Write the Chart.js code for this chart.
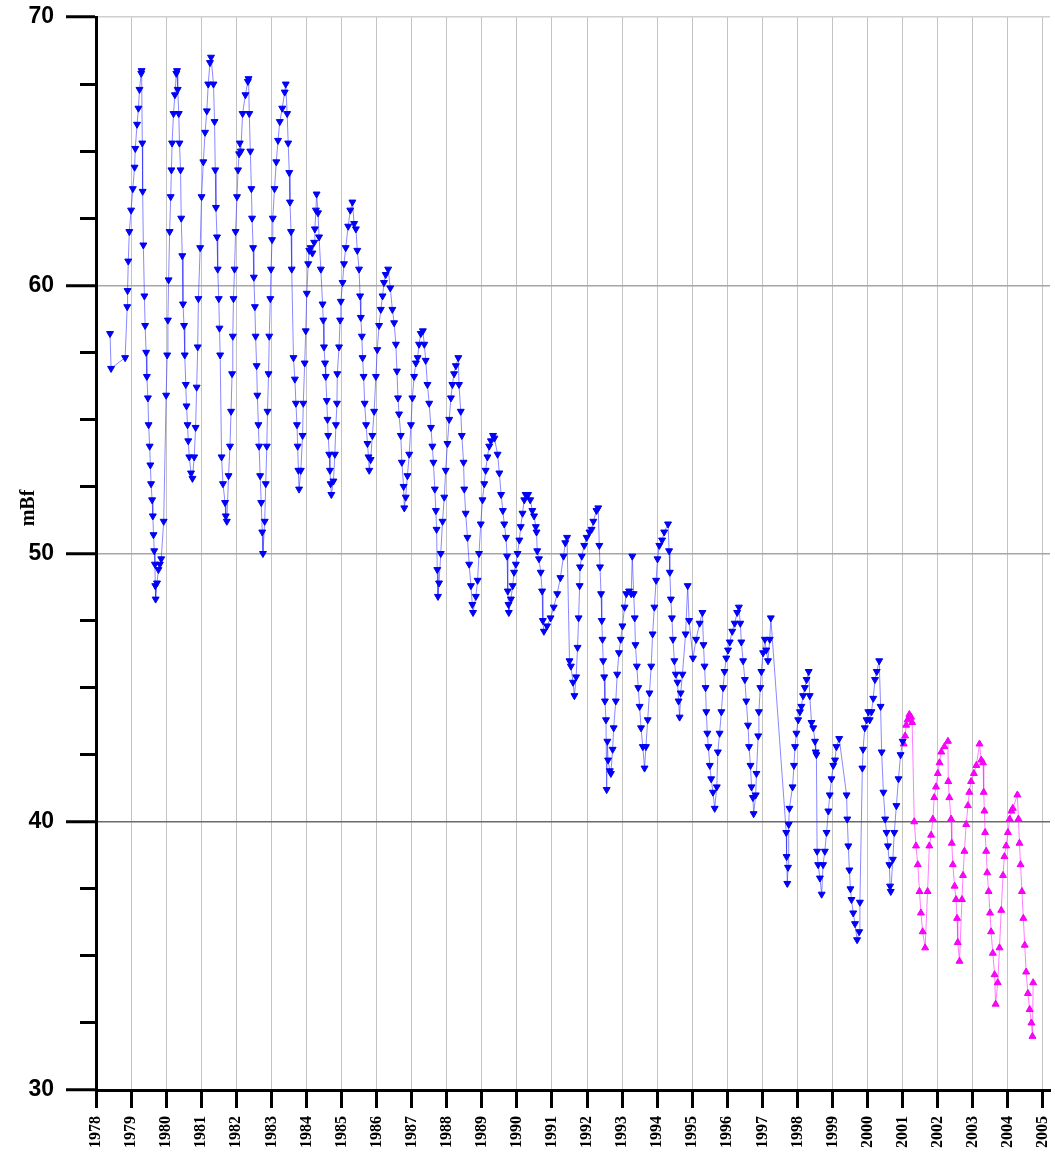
<!DOCTYPE html>
<html><head><meta charset="utf-8">
<script src="https://cdn.jsdelivr.net/npm/chart.js@4.4.0/dist/chart.umd.min.js"></script>
<style>html,body{margin:0;padding:0;background:#fff}canvas{display:block}</style>
</head><body>
<canvas id="c" width="1055" height="1155"></canvas>
<script>
const yearTicks = [1978,1979,1980,1981,1982,1983,1984,1985,1986,1987,1988,1989,1990,1991,1992,1993,1994,1995,1996,1997,1998,1999,2000,2001,2002,2003,2004,2005];
const yearLabels = ["1978","1979","1980","1981","1982","1983","1984","1985","1986","1987","1988","1989","1990","1991","1992","1993","1994","1995","1996","1997","1998","1999","2000","2001","2002","2003","2004","2005"];
const majorTicks = [30,40,50,60,70];
const majorLabels = ["30","40","50","60","70"];
const minorTicks = [32.5,35,37.5,42.5,45,47.5,52.5,55,57.5,62.5,65,67.5];
const yTitle = "mBf";

const blueYears = [
1978.40,1978.43,1978.83,1978.89,1978.90,1978.92,1978.95,1979.00,1979.05,1979.10,
1979.12,1979.17,1979.21,1979.24,1979.29,1979.30,1979.32,1979.33,1979.35,1979.38,
1979.40,1979.43,1979.45,1979.48,1979.50,1979.53,1979.55,1979.57,1979.60,1979.62,
1979.64,1979.66,1979.68,1979.69,1979.70,1979.74,1979.78,1979.82,1979.86,1979.93,
1980.00,1980.03,1980.05,1980.07,1980.10,1980.13,1980.15,1980.17,1980.21,1980.25,
1980.29,1980.31,1980.33,1980.36,1980.38,1980.41,1980.43,1980.46,1980.48,1980.51,
1980.53,1980.56,1980.58,1980.61,1980.63,1980.66,1980.71,1980.75,1980.80,1980.84,
1980.87,1980.90,1980.92,1980.97,1981.01,1981.06,1981.11,1981.16,1981.20,1981.25,
1981.28,1981.35,1981.38,1981.40,1981.42,1981.45,1981.47,1981.50,1981.52,1981.54,
1981.58,1981.62,1981.68,1981.70,1981.73,1981.78,1981.82,1981.85,1981.88,1981.90,
1981.92,1981.95,1981.98,1982.02,1982.05,1982.08,1982.10,1982.13,1982.18,1982.26,
1982.33,1982.35,1982.37,1982.40,1982.43,1982.45,1982.48,1982.50,1982.53,1982.55,
1982.58,1982.60,1982.63,1982.65,1982.68,1982.71,1982.74,1982.76,1982.81,1982.84,
1982.87,1982.89,1982.92,1982.94,1982.97,1982.99,1983.02,1983.04,1983.09,1983.14,
1983.19,1983.24,1983.31,1983.38,1983.41,1983.45,1983.48,1983.51,1983.53,1983.56,
1983.58,1983.63,1983.67,1983.70,1983.73,1983.75,1983.77,1983.79,1983.84,1983.89,
1983.91,1983.95,1983.98,1984.01,1984.05,1984.08,1984.12,1984.17,1984.22,1984.24,
1984.27,1984.29,1984.33,1984.36,1984.41,1984.46,1984.48,1984.50,1984.53,1984.55,
1984.58,1984.60,1984.62,1984.65,1984.67,1984.69,1984.71,1984.77,1984.81,1984.84,
1984.87,1984.88,1984.93,1984.96,1984.98,1985.03,1985.07,1985.12,1985.19,1985.25,
1985.31,1985.36,1985.41,1985.45,1985.50,1985.53,1985.55,1985.58,1985.60,1985.63,
1985.66,1985.70,1985.74,1985.77,1985.79,1985.83,1985.88,1985.93,1985.98,1986.02,
1986.07,1986.12,1986.17,1986.21,1986.26,1986.33,1986.39,1986.45,1986.50,1986.55,
1986.58,1986.61,1986.64,1986.69,1986.72,1986.77,1986.79,1986.83,1986.88,1986.93,
1986.98,1987.02,1987.07,1987.12,1987.17,1987.21,1987.26,1987.32,1987.36,1987.40,
1987.45,1987.50,1987.55,1987.59,1987.62,1987.66,1987.69,1987.71,1987.73,1987.75,
1987.78,1987.83,1987.88,1987.93,1987.97,1988.02,1988.07,1988.12,1988.16,1988.21,
1988.26,1988.33,1988.35,1988.40,1988.43,1988.48,1988.50,1988.54,1988.59,1988.64,
1988.69,1988.73,1988.75,1988.83,1988.88,1988.92,1988.97,1989.02,1989.07,1989.11,
1989.16,1989.21,1989.26,1989.32,1989.36,1989.45,1989.50,1989.55,1989.60,1989.64,
1989.69,1989.72,1989.74,1989.76,1989.77,1989.83,1989.88,1989.92,1989.97,1990.02,
1990.07,1990.11,1990.16,1990.21,1990.25,1990.32,1990.38,1990.44,1990.49,1990.54,
1990.56,1990.58,1990.63,1990.68,1990.72,1990.74,1990.77,1990.86,1990.96,1991.05,
1991.15,1991.24,1991.33,1991.38,1991.43,1991.50,1991.54,1991.60,1991.64,1991.69,
1991.73,1991.76,1991.79,1991.80,1991.85,1991.92,1991.99,1992.07,1992.13,1992.18,
1992.27,1992.32,1992.35,1992.37,1992.40,1992.42,1992.44,1992.46,1992.49,1992.51,
1992.54,1992.56,1992.58,1992.60,1992.65,1992.68,1992.73,1992.76,1992.82,1992.86,
1992.91,1992.96,1993.01,1993.07,1993.12,1993.20,1993.26,1993.29,1993.33,1993.36,
1993.38,1993.42,1993.46,1993.50,1993.54,1993.59,1993.64,1993.68,1993.73,1993.78,
1993.83,1993.87,1993.92,1993.97,1994.01,1994.06,1994.14,1994.20,1994.31,1994.34,
1994.36,1994.39,1994.42,1994.45,1994.49,1994.53,1994.58,1994.61,1994.64,1994.67,
1994.72,1994.81,1994.87,1994.91,1995.02,1995.11,1995.21,1995.29,1995.32,1995.35,
1995.38,1995.40,1995.43,1995.46,1995.50,1995.54,1995.59,1995.64,1995.70,1995.73,
1995.78,1995.83,1995.88,1995.92,1995.97,1996.02,1996.07,1996.14,1996.21,1996.28,
1996.33,1996.37,1996.40,1996.45,1996.50,1996.54,1996.59,1996.62,1996.66,1996.69,
1996.73,1996.75,1996.81,1996.83,1996.88,1996.90,1996.94,1996.97,1997.02,1997.07,
1997.11,1997.16,1997.21,1997.24,1997.68,1997.69,1997.71,1997.73,1997.75,1997.77,
1997.86,1997.90,1997.93,1997.97,1998.02,1998.07,1998.11,1998.16,1998.21,1998.26,
1998.32,1998.35,1998.40,1998.45,1998.50,1998.52,1998.54,1998.56,1998.59,1998.64,
1998.69,1998.73,1998.78,1998.83,1998.88,1998.92,1998.97,1999.02,1999.07,1999.11,
1999.19,1999.40,1999.42,1999.45,1999.48,1999.51,1999.54,1999.59,1999.64,1999.70,
1999.76,1999.78,1999.85,1999.87,1999.92,1999.97,2000.02,2000.06,2000.11,2000.16,
2000.21,2000.26,2000.33,2000.37,2000.40,2000.45,2000.50,2000.54,2000.58,2000.62,
2000.64,2000.66,2000.72,2000.76,2000.82,2000.88,2000.94,2001.00
];
const blueValues = [
58.2,56.9,57.3,59.2,59.8,60.9,62.0,62.8,63.6,64.4,
65.1,66.0,66.6,67.3,67.9,68.0,65.3,63.5,61.5,59.6,
58.5,57.5,56.6,55.8,54.8,54.0,53.3,52.6,52.0,51.4,
50.7,50.1,49.6,48.8,48.3,48.9,49.4,49.6,49.8,51.2,
55.9,57.4,58.7,60.2,62.0,63.3,64.3,65.3,66.4,67.1,
67.9,68.0,67.3,66.4,65.3,64.3,62.5,61.1,59.3,58.5,
57.4,56.3,55.5,54.8,54.2,53.6,53.0,52.8,53.6,54.7,
56.2,57.7,59.5,61.4,63.3,64.6,65.7,66.5,67.5,68.3,
68.5,67.5,66.1,64.3,62.9,61.8,60.6,59.5,58.4,57.4,
53.6,52.6,51.9,51.4,51.2,52.9,54.0,55.3,56.7,58.1,
59.5,60.6,62.0,63.3,64.3,64.9,65.3,65.0,66.4,67.1,
67.6,67.7,66.4,65.0,63.6,62.5,61.4,60.3,59.2,58.1,
57.0,55.9,54.8,54.0,52.9,51.9,50.8,50.0,51.2,52.6,
54.0,55.3,56.7,58.1,59.5,60.6,61.7,62.5,63.6,64.6,
65.4,66.1,66.6,67.2,67.5,66.4,65.3,64.2,63.1,62.0,
60.6,57.3,56.5,55.6,54.8,54.0,53.1,52.4,53.1,54.4,
55.6,57.1,58.3,59.7,60.8,61.3,61.4,61.2,61.6,62.1,
62.8,63.4,62.7,61.8,60.6,59.3,58.7,57.7,57.1,56.6,
55.7,55.0,54.4,53.7,53.1,52.6,52.2,52.7,53.7,54.8,
55.6,56.7,57.7,58.7,59.4,60.1,60.8,61.4,62.2,62.8,
63.1,62.3,62.1,61.3,60.6,59.6,58.8,58.1,57.3,56.6,
55.6,54.8,54.1,53.6,53.1,53.5,54.4,55.3,56.6,57.6,
58.5,59.1,59.6,60.1,60.4,60.6,59.9,59.1,58.6,57.8,
56.8,55.8,55.2,54.4,53.4,52.5,51.7,52.1,52.9,53.7,
54.8,55.8,56.6,57.1,57.3,57.8,58.2,58.3,57.8,57.2,
56.3,55.6,54.7,54.0,53.4,52.4,51.6,50.9,49.4,48.4,
48.9,50.0,51.2,52.1,53.1,54.1,55.0,55.8,56.3,56.7,
57.0,57.3,56.3,55.3,54.4,53.4,52.4,51.5,50.6,49.6,
48.8,48.1,47.8,48.4,49.0,50.0,51.1,52.0,52.6,53.1,
53.6,54.0,54.2,54.4,54.3,53.7,53.0,52.2,51.6,51.1,
50.6,49.9,48.6,48.1,47.8,48.3,48.8,49.3,49.6,50.0,
50.5,51.0,51.5,52.0,52.2,52.2,52.0,51.6,51.4,51.0,
50.8,50.1,49.8,49.3,48.6,47.5,47.1,47.3,47.6,48.0,
48.5,49.1,49.9,50.4,50.6,46.0,45.8,45.2,44.7,45.4,
46.5,47.6,48.8,49.5,49.9,50.3,50.6,50.8,50.9,51.2,
51.6,51.7,50.3,49.5,48.5,47.5,46.8,46.0,45.4,44.5,
43.8,41.2,43.0,42.3,41.9,41.8,42.7,43.5,44.5,45.5,
46.3,46.8,47.3,48.0,48.5,48.6,48.5,49.9,48.5,47.6,
46.6,45.8,45.0,44.3,43.5,42.8,42.0,42.8,43.8,44.8,
45.8,47.0,48.0,49.0,49.8,50.3,50.5,50.8,51.1,50.1,
49.3,48.3,47.6,46.8,46.0,45.5,45.2,44.5,43.9,44.8,
45.5,47.0,48.8,47.5,46.1,46.8,47.4,47.8,46.6,45.8,
45.0,44.1,43.3,42.8,42.1,41.6,41.1,40.5,41.3,42.6,
43.3,44.1,45.0,45.6,46.1,46.4,46.7,47.1,47.4,47.8,
48.0,47.4,46.7,46.0,45.3,44.5,43.6,42.8,42.1,41.3,
40.9,40.3,41.0,41.8,43.2,44.1,45.0,45.6,46.3,46.8,
46.4,46.0,46.8,47.6,39.6,38.7,37.7,38.3,39.9,40.5,
41.3,42.1,42.8,43.3,43.8,44.1,44.3,44.7,45.0,45.3,
45.6,44.7,43.7,43.5,43.0,42.6,42.5,38.9,38.4,37.9,
37.3,38.4,38.9,39.6,40.4,41.0,41.6,42.1,42.3,42.8,
43.1,41.0,40.1,39.1,38.2,37.5,37.1,36.6,36.2,35.6,
35.9,37.0,42.0,42.7,43.5,43.8,44.1,43.8,44.1,44.6,
45.3,45.6,46.0,44.3,42.6,41.1,40.1,39.6,39.1,38.4,
37.6,37.4,38.6,39.6,40.6,41.6,42.5,43.0
];

const magentaYears = [
2001.03,2001.07,2001.10,2001.14,2001.19,2001.24,2001.27,2001.33,2001.38,2001.43,
2001.48,2001.52,2001.57,2001.64,2001.71,2001.76,2001.81,2001.86,2001.90,2001.95,
2002.00,2002.05,2002.10,2002.19,2002.29,2002.30,2002.33,2002.38,2002.40,2002.43,
2002.48,2002.52,2002.55,2002.57,2002.62,2002.69,2002.72,2002.76,2002.81,2002.86,
2002.90,2002.95,2003.03,2003.10,2003.19,2003.24,2003.29,2003.31,2003.33,2003.35,
2003.38,2003.41,2003.45,2003.49,2003.52,2003.57,2003.62,2003.65,2003.71,2003.76,
2003.81,2003.86,2003.90,2003.95,2004.00,2004.05,2004.10,2004.14,2004.27,2004.30,
2004.33,2004.36,2004.40,2004.44,2004.48,2004.52,2004.57,2004.62,2004.67,2004.70,
2004.72
];
const magentaValues = [
42.9,43.2,43.6,43.8,44.0,43.9,43.7,40.0,39.1,38.4,
37.4,36.6,35.9,35.3,37.4,39.1,39.5,40.1,40.9,41.3,
41.8,42.2,42.6,42.8,43.0,41.5,40.9,40.1,39.2,38.4,
37.6,37.1,36.4,35.5,34.8,37.1,38.0,38.9,39.9,40.6,
41.1,41.5,41.8,42.1,42.9,42.3,42.2,41.1,40.4,39.6,
38.9,38.1,37.4,36.6,35.9,35.1,34.3,33.2,34.0,35.3,
36.7,38.0,38.7,39.1,39.6,40.1,40.4,40.5,41.0,40.1,
39.2,38.4,37.4,36.4,35.4,34.4,33.6,33.0,32.5,32.0,
34.0
];

const yTitlePlugin = {
  id: 'yTitle',
  afterDraw(chart) {
    const c = chart.ctx;
    c.save();
    c.font = 'bold 20px "Liberation Serif", serif';
    c.fillStyle = '#000';
    c.textAlign = 'center';
    c.textBaseline = 'middle';
    c.translate(29, 508);
    c.rotate(-Math.PI / 2);
    c.fillText(yTitle, 0, 0);
    c.restore();
  }
};

new Chart(document.getElementById('c'), {
  type: 'line',
  data: {
    datasets: [
      {
        label: 'blue',
        data: blueYears.map((x, i) => ({ x: x, y: blueValues[i] })),
        borderColor: 'rgba(40,40,255,0.55)',
        borderWidth: 1,
        backgroundColor: '#0000ff',
        pointBackgroundColor: '#0000ff',
        pointBorderColor: '#0000ee',
        pointBorderWidth: 1,
        pointStyle: 'triangle',
        pointRotation: 180,
        pointRadius: 4,
        tension: 0
      },
      {
        label: 'magenta',
        data: magentaYears.map((x, i) => ({ x: x, y: magentaValues[i] })),
        borderColor: 'rgba(255,40,255,0.6)',
        borderWidth: 1,
        backgroundColor: '#ff00ff',
        pointBackgroundColor: '#ff00ff',
        pointBorderColor: '#ee00ee',
        pointBorderWidth: 1,
        pointStyle: 'triangle',
        pointRadius: 4,
        tension: 0
      }
    ]
  },
  options: {
    responsive: false,
    animation: false,
    layout: { padding: { top: 17, right: 0, left: 0, bottom: 0 } },
    plugins: { legend: { display: false }, tooltip: { enabled: false } },
    scales: {
      x: {
        type: 'linear',
        min: 1978,
        max: 2005.2,
        afterBuildTicks: s => { s.ticks = yearTicks.map(v => ({ value: v })); },
        afterFit: s => { s.height = 65; s.paddingRight = 0; s.paddingLeft = 0; },
        ticks: {
          autoSkip: false, maxRotation: 90, minRotation: 90, padding: 8,
          color: '#000',
          font: { family: '"Liberation Serif", serif', size: 16, weight: 'bold' },
          callback: (v, i) => yearLabels[i]
        },
        grid: { color: '#c4c4c4', lineWidth: 1, tickColor: '#000', tickWidth: 3, tickLength: 18 },
        border: { color: '#000', width: 3 }
      },
      y: {
        position: 'left',
        weight: 1,
        min: 30, max: 70,
        afterBuildTicks: s => { s.ticks = majorTicks.map(v => ({ value: v })); },
        afterFit: s => { s.width = 96; s.paddingTop = 0; s.paddingBottom = 0; },
        ticks: {
          padding: 12, color: '#000',
          font: { family: '"Liberation Sans", Arial, sans-serif', size: 23, weight: 'bold' },
          callback: (v, i) => majorLabels[i]
        },
        grid: {
          color: ctx => {
            const v = ctx.tick ? ctx.tick.value : 0;
            if (v === 40) return '#6a6a6a';
            if (v === 50 || v === 60) return '#a6a6a6';
            if (v === 70) return '#cfcfcf';
            return 'rgba(0,0,0,0)';
          },
          lineWidth: 1.5, tickColor: '#000', tickWidth: 3, tickLength: 30
        },
        border: { color: '#000', width: 3 }
      },
      y2: {
        position: 'left',
        weight: 0,
        min: 30, max: 70,
        afterBuildTicks: s => { s.ticks = minorTicks.map(v => ({ value: v })); },
        afterFit: s => { s.width = 0; s.paddingTop = 0; s.paddingBottom = 0; },
        ticks: { display: false },
        grid: { drawOnChartArea: false, tickColor: '#000', tickWidth: 3, tickLength: 16 },
        border: { display: false }
      }
    }
  },
  plugins: [yTitlePlugin]
});
</script>
</body></html>
